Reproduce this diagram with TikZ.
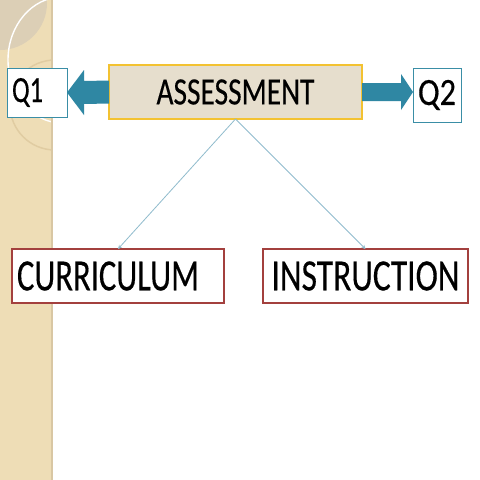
\documentclass[tikz,border=0pt]{standalone}
\usepackage{fontspec}
\usepackage{graphicx}
\newfontfamily\gillfont[FakeBold=0.45]{Carlito}
\usetikzlibrary{calc,arrows.meta}
\definecolor{bandcol}{HTML}{EEDDB6}
\definecolor{bandline}{HTML}{D9C7A3}
\definecolor{banddark}{HTML}{DCCFB6}
\definecolor{bandarc}{HTML}{E0CCA2}
\definecolor{assfill}{HTML}{E6DECD}
\definecolor{assdraw}{HTML}{F3C231}
\definecolor{tealcol}{HTML}{2F87A3}
\definecolor{qdraw}{HTML}{3A8EA6}
\definecolor{reddraw}{HTML}{A3403E}
\definecolor{linkcol}{HTML}{90BCCD}
\tikzset{
  boxbase/.style={rectangle, inner sep=0pt, outer sep=0pt, font=\gillfont},
  assbox/.style={boxbase, fill=assfill, draw=assdraw, line width=1.5pt},
  qbox/.style={boxbase, fill=white, draw=qdraw, line width=1pt},
  redbox/.style={boxbase, fill=white, draw=reddraw, line width=1.5pt},
  link/.style={draw=linkcol, line width=0.8pt, -{Stealth[length=4pt,width=4pt]}},
  fatarrow/.style={fill=tealcol, draw=none}
}
\begin{document}
\begin{tikzpicture}[x=1pt,y=-1pt]
\useasboundingbox (0,0) rectangle (480,480);
\fill[white] (0,0) rectangle (480,480);
% left band
\fill[bandcol] (0,0) rectangle (52,480);
\begin{scope}
  \clip (0,0) rectangle (52,480);
  \fill[banddark] (0,3) circle (47);
  \draw[white, line width=1.4pt] (62,60) ellipse (54 and 63);
  \draw[bandarc, line width=1.5pt] (55,105) circle (45);
\end{scope}
\draw[bandline, line width=1.2pt] (52,0) -- (52,480);
% boxes
\node[assbox, minimum width=253pt, minimum height=54pt] (A) at (235.5,92)
  {\resizebox{158pt}{25pt}{ASSESSMENT}};
\node[qbox, minimum width=60pt, minimum height=49pt, text width=50pt, align=left, inner xsep=5pt] (Q1) at (37,92.5)
  {\resizebox{31pt}{24pt}{Q1}};
\node[qbox, minimum width=48pt, minimum height=54pt] (Q2) at (437,95)
  {\resizebox{38pt}{25pt}{Q2}};
\node[redbox, minimum width=212pt, minimum height=54pt, text width=202pt, align=left, inner xsep=5pt] (C) at (118,276)
  {\resizebox{182pt}{29pt}{CURRICULUM}};
\node[redbox, minimum width=205pt, minimum height=54pt] (I) at (365.5,276)
  {\resizebox{188pt}{29pt}{INSTRUCTION}};
% fat arrows
\coordinate (ltip) at (Q1.east);
\fill[fatarrow] ($(A.west)+(0,-11.5)$) -- ($(ltip)+(17,-11.5)$) -- ($(ltip)+(17,-22.5)$)
  -- (ltip) -- ($(ltip)+(17,22.5)$) -- ($(ltip)+(17,11.5)$) -- ($(A.west)+(0,11.5)$) -- cycle;
\coordinate (rtip) at (Q2.west |- A.east);
\fill[fatarrow] ($(A.east)+(0,-9)$) -- ($(rtip)+(-12,-9)$) -- ($(rtip)+(-12,-18)$)
  -- (rtip) -- ($(rtip)+(-12,18)$) -- ($(rtip)+(-12,9)$) -- ($(A.east)+(0,9)$) -- cycle;
% links
\draw[link] (A.south) -- (C.north);
\draw[link] (A.south) -- (I.north);
\end{tikzpicture}
\end{document}
